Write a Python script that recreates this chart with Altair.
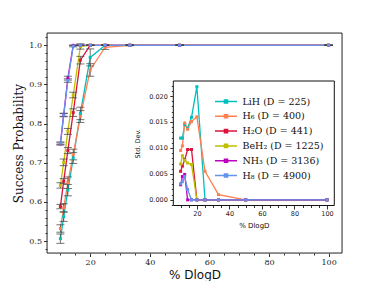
import altair as alt
import pandas as pd

pct = [10, 11.1, 12.5, 14.3, 16.7, 20, 25, 33.3, 50, 100]
names = ["LiH (D = 225)", "H₆ (D = 400)", "H₂O (D = 441)",
         "BeH₂ (D = 1225)", "NH₃ (D = 3136)", "H₈ (D = 4900)"]
colors = ["#00BFBF", "#FF7F50", "#DC143C", "#BFBF00", "#BF00BF", "#6495ED"]

prob_lih = [0.506, 0.562, 0.630, 0.712, 0.826, 0.969, 1.0, 1.0, 1.0, 1.0]
prob_h6 = [0.532, 0.585, 0.649, 0.721, 0.818, 0.937, 0.995, 1.0, 1.0, 1.0]
prob_h2o = [0.588, 0.653, 0.731, 0.828, 0.962, 1.0, 1.0, 1.0, 1.0, 1.0]
prob_beh2 = [0.642, 0.701, 0.780, 0.873, 0.997, 1.0, 1.0, 1.0, 1.0, 1.0]
prob_nh3 = [0.748, 0.822, 0.916, 1.0, 1.0, 1.0, 1.0, 1.0, 1.0, 1.0]
prob_h8 = [0.750, 0.822, 0.910, 0.998, 1.0, 1.0, 1.0, 1.0, 1.0, 1.0]

std_lih = [0.0119, 0.0119, 0.0145, 0.0138, 0.0159, 0.0218, 0, 0, 0, 0]
std_h6 = [0.0095, 0.0104, 0.0148, 0.0136, 0.0151, 0.0160, 0.0055, 0.0010, 0, 0]
std_h2o = [0.0055, 0.0065, 0.0077, 0.0097, 0.0097, 0, 0, 0, 0, 0]
std_beh2 = [0.0069, 0.0085, 0.0076, 0.0071, 0.0068, 0, 0, 0, 0, 0]
std_nh3 = [0.0029, 0.0045, 0.0049, 0, 0, 0, 0, 0, 0, 0]
std_h8 = [0.0031, 0.0035, 0.0045, 0.0020, 0, 0, 0, 0, 0, 0]

probs = [prob_lih, prob_h6, prob_h2o, prob_beh2, prob_nh3, prob_h8]
stds = [std_lih, std_h6, std_h2o, std_beh2, std_nh3, std_h8]

rows = []
for k, (name, p, s) in enumerate(zip(names, probs, stds)):
    for x, pv, sv in zip(pct, p, s):
        rows.append({"series": name, "k": k, "x": x, "p": pv, "s": sv})
df = pd.DataFrame(rows)

W, H = 295, 220
IX0, IX1, IY0, IY1 = 126.3, 287.3, 48.0, 172.5

legend = alt.Legend(
    title=None, orient="none", legendX=172.5, legendY=62,
    symbolType="M-2,0H2M-0.28,-0.28H0.28V0.28H-0.28Z", symbolSize=121,
    symbolStrokeWidth=1.5, labelFont="DejaVu Serif", labelFontSize=9.5,
    labelColor="#111", labelOffset=10, rowPadding=2.8, padding=0,
    zindex=3,
)
color_enc = alt.Color("series:N", scale=alt.Scale(domain=names, range=colors), legend=legend)

# ---- main axes
mx_vals = list(range(10, 101, 5))
my_vals = [round(0.48 + 0.02 * i, 2) for i in range(28)]
main_x_axis = alt.Axis(
    values=mx_vals, orient="bottom", title="% DlogD",
    labelExpr="datum.value % 20 == 0 ? datum.label : ''",
    tickSize={"condition": {"test": "datum.value % 20 == 0", "value": 3.5}, "value": 2},
    labelFont="DejaVu Serif", labelFontSize=8, labelColor="#222", labelPadding=2,
    labelFlush=False, tickColor="#333", domain=False, grid=False,
    titleFont="DejaVu Sans", titleFontSize=12, titleFontWeight="normal",
    titleColor="#111", titlePadding=3,
)
major_y = "abs(datum.value*10 - round(datum.value*10)) < 0.001"
main_y_axis = alt.Axis(
    values=my_vals, orient="left", title="Success Probability", format=".1f",
    labelExpr=major_y + " ? datum.label : ''",
    tickSize={"condition": {"test": major_y, "value": 3.5}, "value": 2},
    labelFont="DejaVu Serif", labelFontSize=8, labelColor="#222", labelPadding=2,
    labelFlush=False, tickColor="#333", domain=False, grid=False,
    titleFont="DejaVu Serif", titleFontSize=12, titleFontWeight="normal",
    titleColor="#111", titlePadding=3,
)
mxs = alt.Scale(domain=[5.5, 104.5], nice=False, zero=False)
mys = alt.Scale(domain=[0.4694, 1.0314], nice=False, zero=False)
X = alt.X("x:Q", scale=mxs, axis=main_x_axis)

base = alt.Chart(df).transform_calculate(lo="datum.p - datum.s", hi="datum.p + datum.s")
m_line = base.mark_line(strokeWidth=1.3).encode(
    x=X, y=alt.Y("p:Q", scale=mys, axis=main_y_axis), color=color_enc,
    order=alt.Order("x:Q"))
m_rule = base.mark_rule(color="#444", strokeWidth=1, opacity=0.75).encode(
    x=X, y=alt.Y("lo:Q", scale=mys, axis=main_y_axis), y2="hi:Q")
m_cap_lo = base.mark_tick(color="#444", orient="horizontal", size=8, thickness=1, opacity=0.75).encode(
    x=X, y=alt.Y("lo:Q", scale=mys, axis=main_y_axis))
m_cap_hi = base.mark_tick(color="#444", orient="horizontal", size=8, thickness=1, opacity=0.75).encode(
    x=X, y=alt.Y("hi:Q", scale=mys, axis=main_y_axis))
m_pts = base.mark_square(size=9, opacity=1).encode(
    x=X, y=alt.Y("p:Q", scale=mys, axis=main_y_axis), color=color_enc)
main = alt.layer(m_line, m_rule, m_cap_lo, m_cap_hi, m_pts)

one = pd.DataFrame({"a": [0]})
# ---- main frame
frame = alt.Chart(one).mark_rect(fill="transparent", stroke="#333", strokeWidth=1).encode(
    x=alt.value(0), x2=alt.value(W), y=alt.value(0), y2=alt.value(H))

# ---- inset box
box = alt.Chart(one).mark_rect(
    fill="white", stroke="#111", strokeWidth=1).encode(
    x=alt.value(IX0), x2=alt.value(IX1), y=alt.value(IY0), y2=alt.value(IY1))

# ---- inset axes
iy_vals = [round(-0.001 + 0.001 * i, 3) for i in range(24)]
major_iy = "abs(datum.value*200 - round(datum.value*200)) < 0.001"
in_x_axis = alt.Axis(
    values=mx_vals, orient="bottom", offset=-(H - IY1), title="% DlogD",
    labelExpr="datum.value % 20 == 0 ? datum.label : ''",
    tickSize={"condition": {"test": "datum.value % 20 == 0", "value": 3.5}, "value": 2},
    labelFont="DejaVu Sans", labelFontSize=6.5, labelColor="#222", labelPadding=1.5,
    labelFlush=False, tickColor="#333", domain=False, grid=False, zindex=2,
    titleFont="DejaVu Sans", titleFontSize=7, titleFontWeight="normal",
    titleColor="#111", titlePadding=4,
)
in_y_axis = alt.Axis(
    values=iy_vals, orient="left", offset=-IX0, title="Std. Dev.", format=".3f",
    labelExpr=major_iy + " ? datum.label : ''",
    tickSize={"condition": {"test": major_iy, "value": 3.5}, "value": 2},
    labelFont="DejaVu Sans", labelFontSize=6.5, labelColor="#222", labelPadding=2.5,
    labelFlush=False, tickColor="#333", domain=False, grid=False, zindex=2,
    titleFont="DejaVu Sans", titleFontSize=6.5, titleFontWeight="normal",
    titleColor="#111", titlePadding=8,
)
ixs = alt.Scale(domain=[5.5, 104.5], range=[IX0, IX1], nice=False, zero=False)
iys = alt.Scale(domain=[-0.00109, 0.0229], range=[IY1, IY0], nice=False, zero=False)
IXE = alt.X("x:Q", scale=ixs, axis=in_x_axis)
IYE = alt.Y("s:Q", scale=iys, axis=in_y_axis)
i_line = alt.Chart(df).mark_line(strokeWidth=1.3).encode(
    x=IXE, y=IYE, color=color_enc, order=alt.Order("x:Q"))
i_pts = alt.Chart(df).mark_square(size=9, opacity=1).encode(
    x=IXE, y=IYE, color=color_enc)
inset = alt.layer(i_line, i_pts)

chart = alt.layer(main, frame, box, inset).resolve_scale(
    x="independent", y="independent", color="shared"
).properties(
    width=W, height=H,
    autosize=alt.AutoSizeParams(type="none"),
    padding={"left": 39, "top": 25, "right": 15, "bottom": 28},
).configure_view(stroke=None).configure(background="white")

chart.save("out.html", embed_options={"renderer": "svg", "actions": False})
